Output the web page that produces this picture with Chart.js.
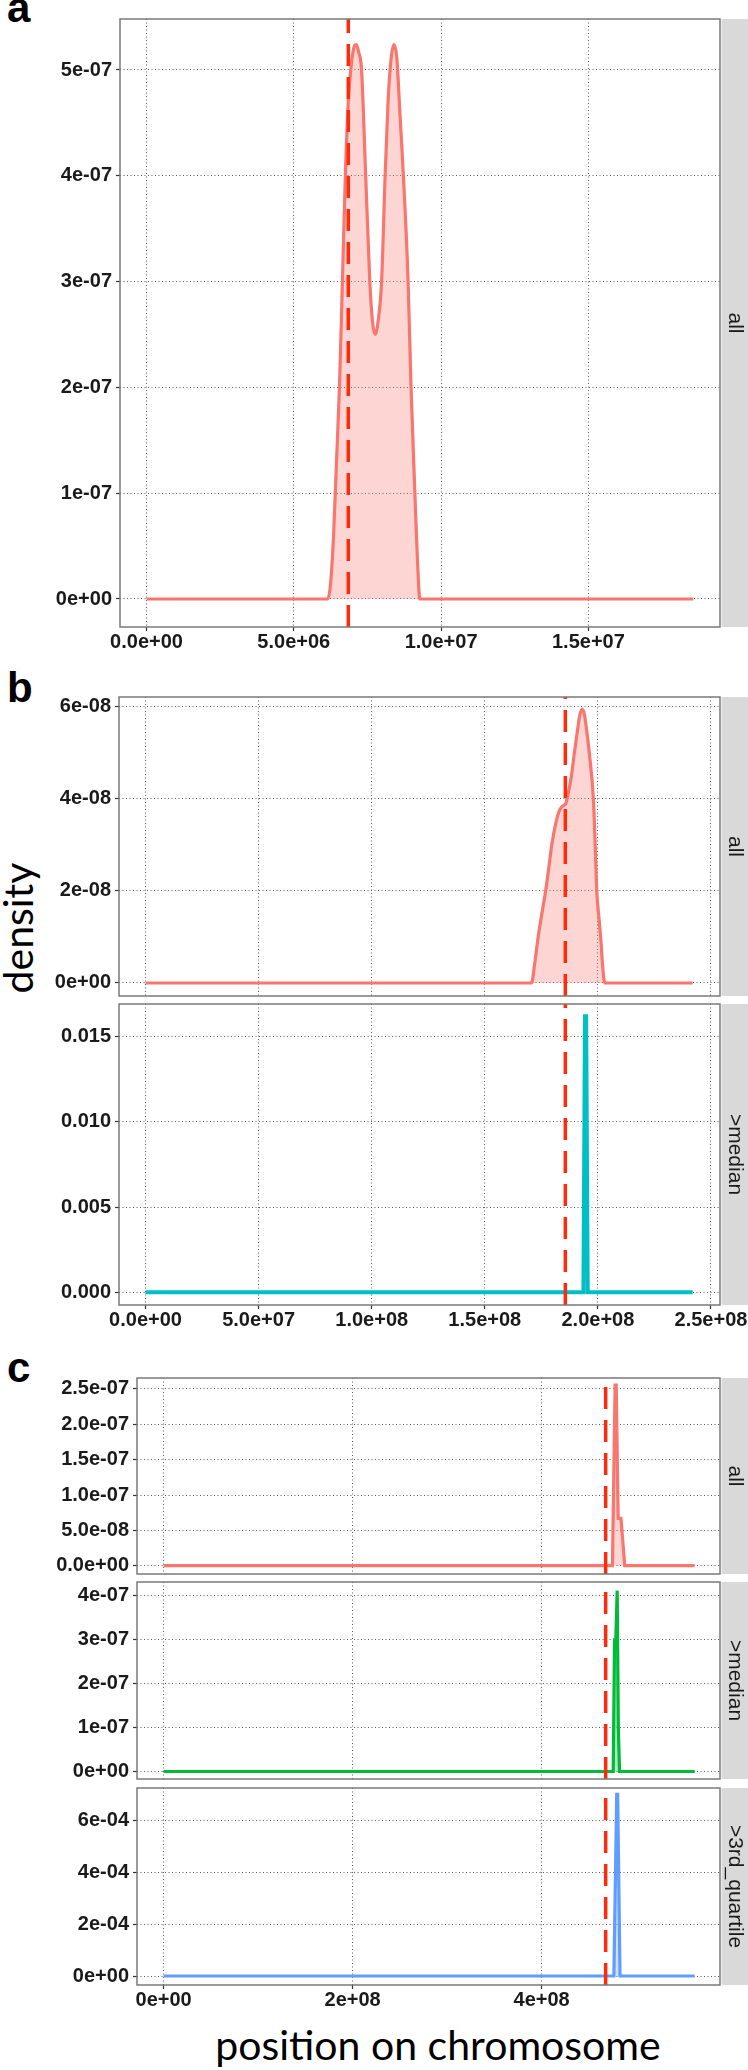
<!DOCTYPE html>
<html lang="en">
<head>
<meta charset="UTF-8">
<title>density along chromosome</title>
<script src="https://cdn.jsdelivr.net/npm/chart.js"></script>
<style>
  body { margin: 0; width: 748px; height: 2070px; position: relative; overflow: hidden; background: #fff; }
  canvas { position: absolute; left: 0; }
  .tag { position: absolute; font: bold 42px/42px "Liberation Sans", Arial, sans-serif; color: #000; }
  .title { position: absolute; font: 41px/41px Lato, sans-serif; color: #000; white-space: nowrap; }
</style>
</head>
<body>
<div class="tag" style="left:7px; top:-13px">a</div>
<div class="tag" style="left:7px; top:667px">b</div>
<div class="tag" style="left:7px; top:1347px">c</div>
<div class="title" style="left:17px; top:928px; transform: translate(-50%, -50%) rotate(-90deg);">density</div>
<div class="title" style="left:438px; top:2024px; transform: translateX(-50%);">position on chromosome</div>

<script>
// ---- panel a (one group: all) ----
const posA = [0, 6.15e6, 6.25e6, 6.35e6, 6.45e6, 6.55e6, 6.65e6, 6.75e6, 6.85e6, 6.95e6, 7.05e6, 7.12e6,
  7.2e6, 7.3e6, 7.44e6, 7.58e6, 7.68e6, 7.77e6, 7.86e6, 7.98e6, 8.1e6, 8.2e6, 8.3e6, 8.4e6, 8.5e6,
  8.6e6, 8.72e6, 8.88e6, 8.98e6, 9.11e6, 9.2e6, 9.28e6, 18.56e6];
const densA = [0, 0, 0.15e-7, 0.6e-7, 1.3e-7, 2.0e-7, 3.0e-7, 4.0e-7, 4.7e-7, 5.05e-7, 5.22e-7, 5.24e-7,
  5.17e-7, 5.0e-7, 4.0e-7, 3.0e-7, 2.6e-7, 2.5e-7, 2.62e-7, 3.0e-7, 4.0e-7, 4.7e-7, 5.1e-7, 5.24e-7, 5.1e-7,
  4.6e-7, 4.0e-7, 3.0e-7, 2.0e-7, 1.0e-7, 0.35e-7, 0, 0];
const medianA = 6.85e6;
const xTicksA = [0, 5e6, 1e7, 1.5e7];
const xLabelsA = ['0.0e+00', '5.0e+06', '1.0e+07', '1.5e+07'];
const yTicksA = [0, 1e-7, 2e-7, 3e-7, 4e-7, 5e-7];
const yLabelsA = ['0e+00', '1e-07', '2e-07', '3e-07', '4e-07', '5e-07'];

// ---- panel b (all, >median) ----
const posB = [0, 17.07e7, 17.2e7, 17.36e7, 17.52e7, 17.69e7, 17.83e7, 17.96e7, 18.15e7, 18.3e7, 18.45e7,
  18.58e7, 18.7e7, 18.83e7, 18.96e7, 19.1e7, 19.2e7, 19.3e7, 19.4e7, 19.5e7, 19.62e7, 19.8e7, 19.88e7,
  19.95e7, 20.05e7, 20.12e7, 20.22e7, 20.31e7, 24.19e7];
const densB = [0, 0, 0.4e-8, 1.0e-8, 1.5e-8, 2.0e-8, 2.5e-8, 3.0e-8, 3.5e-8, 3.75e-8, 3.85e-8,
  3.9e-8, 4.15e-8, 4.5e-8, 5.0e-8, 5.5e-8, 5.82e-8, 5.95e-8, 5.85e-8, 5.5e-8, 5.0e-8, 4.0e-8, 3.0e-8,
  2.0e-8, 1.4e-8, 1.0e-8, 0.3e-8, 0, 0];
const posBMed = [0, 19.36e7, 19.43e7, 19.48e7, 19.55e7, 24.19e7];
const densBMed = [0, 0, 0.01618, 0.01618, 0, 0];
const medianB = 18.56e7;
const xTicksB = [0, 5e7, 1e8, 1.5e8, 2e8, 2.5e8];
const xLabelsB = ['0.0e+00', '5.0e+07', '1.0e+08', '1.5e+08', '2.0e+08', '2.5e+08'];
const yTicksBAll = [0, 2e-8, 4e-8, 6e-8];
const yLabelsBAll = ['0e+00', '2e-08', '4e-08', '6e-08'];
const yTicksBMed = [0, 0.005, 0.01, 0.015];
const yLabelsBMed = ['0.000', '0.005', '0.010', '0.015'];

// ---- panel c (all, >median, >3rd_quartile) ----
const posCAll = [0, 4.75e8, 4.778e8, 4.79e8, 4.81e8, 4.84e8, 4.88e8, 5.62e8];
const densCAll = [0, 0, 2.556e-7, 2.556e-7, 0.67e-7, 0.67e-7, 0, 0];
const posCMed = [0, 4.758e8, 4.772e8, 4.785e8, 4.8e8, 4.812e8, 4.825e8, 5.62e8];
const densCMed = [0, 0, 3.0e-7, 3.0e-7, 4.12e-7, 1.0e-7, 0, 0];
const posCQ3 = [0, 4.765e8, 4.795e8, 4.805e8, 4.83e8, 5.62e8];
const densCQ3 = [0, 0, 6.99e-4, 6.99e-4, 0, 0];
const medianC = 4.678e8;
const xTicksC = [0, 2e8, 4e8];
const xLabelsC = ['0e+00', '2e+08', '4e+08'];
const yTicksCAll = [0, 5e-8, 1e-7, 1.5e-7, 2e-7, 2.5e-7];
const yLabelsCAll = ['0.0e+00', '5.0e-08', '1.0e-07', '1.5e-07', '2.0e-07', '2.5e-07'];
const yTicksCMed = [0, 1e-7, 2e-7, 3e-7, 4e-7];
const yLabelsCMed = ['0e+00', '1e-07', '2e-07', '3e-07', '4e-07'];
const yTicksCQ3 = [0, 2e-4, 4e-4, 6e-4];
const yLabelsCQ3 = ['0e+00', '2e-04', '4e-04', '6e-04'];

const RED = '#ff2a0a';
const SALMON = '#F8766D', SALMON_FILL = 'rgba(248,118,109,0.3)';
const GRID = 'rgba(50,50,50,0.8)';
const PAD = 20;

Chart.defaults.font.family = '"Liberation Sans", Arial, sans-serif';

const facetPlugin = {
  id: 'facet',
  afterDraw(chart, args, opts) {
    const { ctx, chartArea: a } = chart;
    ctx.save();
    ctx.fillStyle = '#d9d9d9';
    ctx.fillRect(a.right + 1.5, a.top, 748 - a.right, a.bottom - a.top);
    ctx.strokeStyle = '#7a7a7a';
    ctx.lineWidth = 1.5;
    ctx.strokeRect(a.left, a.top, a.right - a.left, a.bottom - a.top);
    ctx.translate((a.right + 1.5 + 748) / 2, (a.top + a.bottom) / 2);
    ctx.rotate(Math.PI / 2);
    ctx.font = '21px "Liberation Sans", Arial, sans-serif';
    ctx.fillStyle = '#1a1a1a';
    ctx.textAlign = 'center';
    ctx.textBaseline = 'middle';
    ctx.fillText(opts.label, 0, 0);
    ctx.restore();
  }
};

function panel(p) {
  const axisH = p.showX ? 44 : PAD;
  const h = (p.bottom - p.top) + PAD + axisH;
  const cv = document.createElement('canvas');
  cv.width = 780; cv.height = h;
  cv.style.width = '780px'; cv.style.height = h + 'px';
  cv.style.top = (p.top - PAD) + 'px';
  document.body.appendChild(cv);

  new Chart(cv, {
    type: 'line',
    data: {
      datasets: [
        {
          data: [{ x: p.median, y: p.yMin }, { x: p.median, y: p.yMax }],
          borderColor: RED, borderWidth: 3.5, borderDash: [22, 11],
          pointRadius: 0, fill: false
        },
        {
          data: p.pos.map((x, i) => ({ x: x, y: p.dens[i] })),
          borderColor: p.color, backgroundColor: p.fill, borderWidth: p.lw || 3.2,
          pointRadius: 0, fill: 'origin', tension: 0,
          cubicInterpolationMode: p.smooth ? 'monotone' : 'default'
        }
      ]
    },
    options: {
      responsive: false,
      animation: false,
      events: [],
      layout: { padding: { top: PAD, right: 60, left: 0, bottom: 0 } },
      plugins: { legend: { display: false }, tooltip: { enabled: false }, facet: { label: p.label } },
      scales: {
        x: {
          type: 'linear', min: p.xMin, max: p.xMax,
          afterBuildTicks: ax => { ax.ticks = p.xTicks.map(v => ({ value: v })); },
          afterFit: ax => { ax.height = axisH; },
          grid: { color: GRID, lineWidth: 1, drawTicks: p.showX, tickLength: 4, tickColor: '#333', tickWidth: 1.2, tickBorderDash: [] },
          border: { display: false, dash: [1, 2.5] },
          ticks: {
            display: p.showX, autoSkip: false, maxRotation: 0, minRotation: 0, padding: -1,
            color: '#1a1a1a', font: { size: 20, weight: 'bold' },
            callback: (v, i) => p.xLabels[i]
          }
        },
        y: {
          type: 'linear', min: p.yMin, max: p.yMax,
          afterBuildTicks: ax => { ax.ticks = p.yTicks.map(v => ({ value: v })); },
          afterFit: ax => { ax.width = p.left; },
          grid: { color: GRID, lineWidth: 1, drawTicks: true, tickLength: 4, tickColor: '#333', tickWidth: 1.2, tickBorderDash: [] },
          border: { display: false, dash: [1, 2.5] },
          ticks: {
            autoSkip: false, padding: 4,
            color: '#1a1a1a', font: { size: 20, weight: 'bold' },
            callback: (v, i) => p.yLabels[i]
          }
        }
      }
    },
    plugins: [facetPlugin]
  });
}

// a
panel({ top: 19, bottom: 627, left: 120, showX: true, label: 'all',
  pos: posA, dens: densA, color: SALMON, fill: SALMON_FILL, smooth: true, median: medianA,
  xMin: -0.8995e6, xMax: 19.467e6, xTicks: xTicksA, xLabels: xLabelsA,
  yMin: -0.2647e-7, yMax: 5.482e-7, yTicks: yTicksA, yLabels: yLabelsA });

// b
panel({ top: 697, bottom: 996, left: 119, showX: false, label: 'all',
  pos: posB, dens: densB, color: SALMON, fill: SALMON_FILL, smooth: true, median: medianB,
  xMin: -1.1715e7, xMax: 25.398e7, xTicks: xTicksB, xLabels: xLabelsB,
  yMin: -0.283e-8, yMax: 6.217e-8, yTicks: yTicksBAll, yLabels: yLabelsBAll });
panel({ top: 1004, bottom: 1305, left: 119, showX: true, label: '>median',
  pos: posBMed, dens: densBMed, color: '#00BFC4', fill: 'rgba(0,191,196,0.3)', lw: 4, median: medianB,
  xMin: -1.1715e7, xMax: 25.398e7, xTicks: xTicksB, xLabels: xLabelsB,
  yMin: -0.000744, yMax: 0.0169, yTicks: yTicksBMed, yLabels: yLabelsBMed });

// c
panel({ top: 1378, bottom: 1574, left: 137, showX: false, label: 'all',
  pos: posCAll, dens: densCAll, color: SALMON, fill: SALMON_FILL, median: medianC,
  xMin: -0.2815e8, xMax: 5.888e8, xTicks: xTicksC, xLabels: xLabelsC,
  yMin: -0.1174e-7, yMax: 2.655e-7, yTicks: yTicksCAll, yLabels: yLabelsCAll });
panel({ top: 1582, bottom: 1779, left: 137, showX: false, label: '>median',
  pos: posCMed, dens: densCMed, color: '#00BA38', fill: 'rgba(0,186,56,0.3)', median: medianC,
  xMin: -0.2815e8, xMax: 5.888e8, xTicks: xTicksC, xLabels: xLabelsC,
  yMin: -0.171e-7, yMax: 4.317e-7, yTicks: yTicksCMed, yLabels: yLabelsCMed });
panel({ top: 1788, bottom: 1985, left: 137, showX: true, label: '>3rd_quartile',
  pos: posCQ3, dens: densCQ3, color: '#619CFF', fill: 'rgba(97,156,255,0.3)', median: medianC,
  xMin: -0.2815e8, xMax: 5.888e8, xTicks: xTicksC, xLabels: xLabelsC,
  yMin: -0.346e-4, yMax: 7.231e-4, yTicks: yTicksCQ3, yLabels: yLabelsCQ3 });
</script>
</body>
</html>
